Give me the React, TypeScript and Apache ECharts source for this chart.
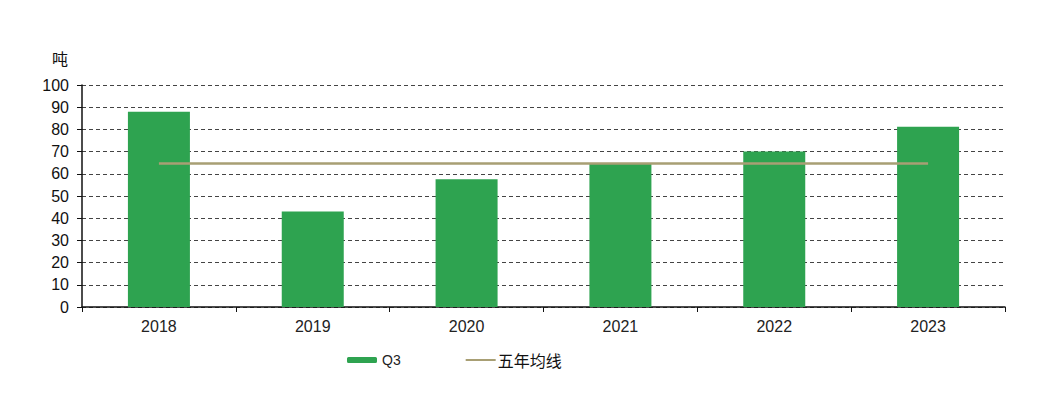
import React, { useEffect, useRef } from "react";
import * as echarts from "echarts";

const categories = ["2018", "2019", "2020", "2021", "2022", "2023"];
const q3Values = [88, 43, 57.5, 64.5, 70, 81.2];
const fiveYearAvg = [64.6, 64.6, 64.6, 64.6, 64.6, 64.6];
const yTicks = { min: 0, max: 100, interval: 10 };

export default function App() {
  const ref = useRef<HTMLDivElement>(null);
  useEffect(() => {
    document.body.style.margin = "0";
    const chart = echarts.init(ref.current!, null, { renderer: "svg" });
    const font = "Liberation Sans, Arial, sans-serif";
    chart.setOption({
      animation: false,
      backgroundColor: "#ffffff",
      grid: { left: 82, right: 45, top: 85, bottom: 91, containLabel: false },
      graphic: [
        {
          type: "text",
          left: 52,
          top: 50,
          style: { text: "吨", font: "16px 'Noto Sans CJK SC'", fill: "#111" },
        },
      ],
      legend: {
        left: 347,
        top: 352,
        padding: 0,
        itemWidth: 30,
        itemHeight: 6,
        itemGap: 64,
        textStyle: { fontSize: 14, color: "#222", fontFamily: font },
        data: [
          { name: "Q3" },
          {
            name: "五年均线",
            itemStyle: { opacity: 0 },
            textStyle: { fontSize: 16, color: "#111", fontFamily: "Noto Sans CJK SC", padding: [0, 0, 0, -3] },
          },
        ],
      },
      xAxis: {
        type: "category",
        data: categories,
        axisLine: { lineStyle: { color: "#111", width: 1.5 } },
        axisTick: { show: true, length: 5, alignWithLabel: false, lineStyle: { color: "#111" } },
        axisLabel: { fontSize: 16, color: "#222", margin: 11, fontFamily: font },
      },
      yAxis: {
        type: "value",
        min: yTicks.min,
        max: yTicks.max,
        interval: yTicks.interval,
        axisLine: { show: true, lineStyle: { color: "#111", width: 1.5 } },
        axisTick: { show: true, length: 5, lineStyle: { color: "#111" } },
        axisLabel: { fontSize: 16, color: "#111", margin: 13, fontFamily: font },
        splitLine: { show: true, lineStyle: { color: "#444", type: [4, 3], width: 1 } },
      },
      series: [
        {
          name: "Q3",
          type: "bar",
          data: q3Values,
          barWidth: 62,
          itemStyle: { color: "#2ea350" },
        },
        {
          name: "五年均线",
          type: "line",
          data: fiveYearAvg,
          symbol: "none",
          lineStyle: { color: "#a89f74", width: 2.5 },
          itemStyle: { color: "#a89f74" },
          z: 3,
        },
      ],
    });
    return () => chart.dispose();
  }, []);
  return <div ref={ref} style={{ width: 1050, height: 398 }} />;
}
